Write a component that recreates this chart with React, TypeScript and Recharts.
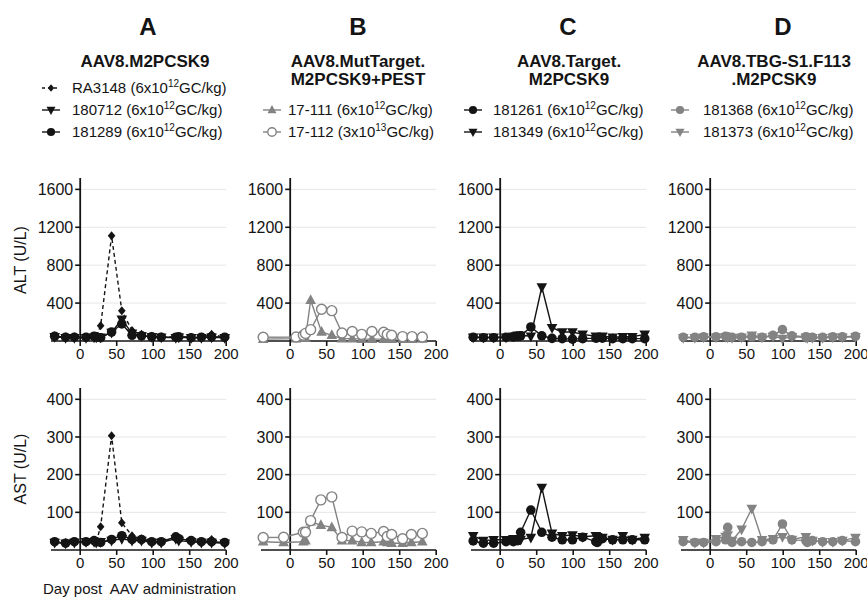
import React from 'react';
import { LineChart, Line, XAxis, YAxis, ReferenceLine } from 'recharts';

const FONT = '"Liberation Sans", Arial, Helvetica, sans-serif';
const INK = '#141414';
const GREY = '#838383';
const GRID = '#e6e6e6';

// ---------- ticks / labels ----------
const X_TICKS = [0, 50, 100, 150, 200];
const ALT_TICKS = [400, 800, 1200, 1600];
const AST_TICKS = [100, 200, 300, 400];
const PANEL_LETTERS = ['A', 'B', 'C', 'D'];
const PANEL_TITLES = [
  ['AAV8.M2PCSK9'],
  ['AAV8.MutTarget.', 'M2PCSK9+PEST'],
  ['AAV8.Target.', 'M2PCSK9'],
  ['AAV8.TBG-S1.F113', '.M2PCSK9'],
];

// ---------- data ----------
// Panel A
const DAYS_A = [-35, -20, -8, 8, 19, 22, 28, 43, 57, 71, 84, 98, 111, 131, 135, 152, 166, 180, 198];
const ALT_RA3148 = [55, 45, 45, 40, 50, 50, 160, 1110, 320, 110, 70, 50, 45, 40, 45, 40, 40, 70, 40];
const ALT_180712 = [45, 35, 35, 35, 40, 40, 40, 90, 230, 80, 55, 45, 40, 35, 40, 35, 35, 40, 35];
const ALT_181289 = [50, 40, 40, 40, 50, 45, 35, 95, 180, 60, 55, 45, 40, 40, 45, 35, 40, 45, 40];
const AST_RA3148 = [22, 20, 22, 22, 25, 22, 62, 303, 72, 38, 30, 22, 22, 30, 28, 25, 22, 28, 20];
const AST_180712 = [20, 18, 20, 22, 22, 20, 22, 25, 30, 25, 25, 20, 20, 30, 25, 22, 20, 20, 18];
const AST_181289 = [22, 18, 22, 22, 25, 22, 20, 28, 38, 28, 28, 22, 22, 35, 30, 25, 22, 22, 20];

// Panel B
const DAYS_B_ALT = [-37, 8, 18, 21, 28, 43, 57, 71, 85, 98, 112, 128, 133, 139, 154, 167, 181];
const ALT_17_111 = [20, 25, 30, 30, 430, 95, 60, 25, 25, 20, 20, 20, 25, 20, 20, 20, 22];
const ALT_17_112 = [40, 42, 60, 80, 120, 335, 320, 85, 100, 70, 100, 92, 70, 60, 46, 46, 42];
const DAYS_B_AST = [-37, -9, 18, 21, 28, 42, 57, 71, 85, 98, 111, 128, 133, 139, 154, 166, 181];
const AST_17_111 = [22, 20, 22, 25, 75, 66, 60, 25, 25, 20, 20, 22, 20, 18, 18, 20, 22];
const AST_17_112 = [33, 34, 47, 47, 78, 133, 141, 33, 50, 48, 44, 49, 36, 41, 30, 41, 44];

// Panel C
const DAYS_C = [-37, -23, -9, 8, 18, 24, 28, 42, 57, 71, 85, 99, 113, 131, 133, 140, 154, 168, 181, 198];
const ALT_181261 = [40, 35, 35, 40, 45, 50, 55, 148, 55, 28, 25, 20, 25, 30, 35, 30, 25, 25, 25, 25];
const ALT_181349 = [40, 40, 40, 40, 50, 60, 60, 50, 570, 140, 95, 95, 70, 50, 45, 50, 40, 45, 45, 70];
const AST_181261 = [24, 18, 18, 22, 22, 25, 47, 106, 47, 34, 27, 27, 34, 22, 20, 30, 27, 27, 27, 27];
const AST_181349 = [38, 25, 27, 27, 30, 30, 28, 33, 166, 44, 38, 40, 35, 38, 35, 33, 28, 38, 28, 33];

// Panel D
const DAYS_D = [-37, -21, -9, 8, 21, 24, 30, 43, 57, 71, 86, 99, 112, 131, 133, 140, 154, 168, 181, 199];
const ALT_181368 = [40, 40, 45, 45, 50, 45, 40, 40, 45, 40, 60, 120, 55, 45, 40, 40, 40, 45, 45, 50];
const ALT_181373 = [35, 35, 40, 40, 45, 40, 35, 40, 60, 40, 50, 25, 45, 40, 35, 35, 35, 40, 40, 45];
const AST_181368 = [22, 20, 20, 22, 27, 60, 20, 22, 20, 22, 27, 69, 27, 25, 20, 25, 22, 22, 25, 22];
const AST_181373 = [27, 20, 20, 30, 36, 40, 25, 55, 110, 27, 30, 35, 28, 35, 25, 25, 22, 22, 25, 33];

const pts = (days: number[], vals: number[]) => days.map((d, i) => ({ day: d, v: vals[i] }));

type Shape = 'circle' | 'open' | 'diamond' | 'triUp' | 'triDown';
interface Series { id: string; mant: string; exp: string; shape: Shape; color: string; dashed?: boolean; alt: any[]; ast: any[]; }

const PANELS: Series[][] = [
  [
    { id: 'RA3148', mant: '6', exp: '12', shape: 'diamond', color: INK, dashed: true, alt: pts(DAYS_A, ALT_RA3148), ast: pts(DAYS_A, AST_RA3148) },
    { id: '180712', mant: '6', exp: '12', shape: 'triDown', color: INK, alt: pts(DAYS_A, ALT_180712), ast: pts(DAYS_A, AST_180712) },
    { id: '181289', mant: '6', exp: '12', shape: 'circle', color: INK, alt: pts(DAYS_A, ALT_181289), ast: pts(DAYS_A, AST_181289) },
  ],
  [
    { id: '17-111', mant: '6', exp: '12', shape: 'triUp', color: GREY, alt: pts(DAYS_B_ALT, ALT_17_111), ast: pts(DAYS_B_AST, AST_17_111) },
    { id: '17-112', mant: '3', exp: '13', shape: 'open', color: GREY, alt: pts(DAYS_B_ALT, ALT_17_112), ast: pts(DAYS_B_AST, AST_17_112) },
  ],
  [
    { id: '181261', mant: '6', exp: '12', shape: 'circle', color: INK, alt: pts(DAYS_C, ALT_181261), ast: pts(DAYS_C, AST_181261) },
    { id: '181349', mant: '6', exp: '12', shape: 'triDown', color: INK, alt: pts(DAYS_C, ALT_181349), ast: pts(DAYS_C, AST_181349) },
  ],
  [
    { id: '181368', mant: '6', exp: '12', shape: 'circle', color: GREY, alt: pts(DAYS_D, ALT_181368), ast: pts(DAYS_D, AST_181368) },
    { id: '181373', mant: '6', exp: '12', shape: 'triDown', color: GREY, alt: pts(DAYS_D, ALT_181373), ast: pts(DAYS_D, AST_181373) },
  ],
];

// ---------- layout ----------
const X0 = [80.5, 290, 500, 710];          // pixel of day 0 per panel
const LETTER_X = [148, 358, 568, 783];
const TITLE_X = [145, 358, 569, 774];
const LEG_ICON_X = [51, 272, 473, 680];
const LEG_TEXT_X = [72, 288, 493, 703];
const LEG_ROW0 = [88, 110, 110, 110];
const PX_PER_DAY = 0.73;
const X_MIN = -40;
const X_MAX = 200;
const PW = (X_MAX - X_MIN) * PX_PER_DAY;
const YW = 40, MR = 16, MT = 8, XH = 30;

function Marker({ shape, cx, cy, color, s = 1 }: { shape: Shape; cx: number; cy: number; color: string; s?: number }) {
  switch (shape) {
    case 'circle':
      return <circle cx={cx} cy={cy} r={4.8 * s} fill={color} />;
    case 'open':
      return <circle cx={cx} cy={cy} r={5 * s} fill="#fff" stroke={color} strokeWidth={1.4} />;
    case 'diamond':
      return <path d={`M${cx},${cy - 4.5 * s}L${cx + 3.8 * s},${cy}L${cx},${cy + 4.5 * s}L${cx - 3.8 * s},${cy}Z`} fill={color} />;
    case 'triUp':
      return <path d={`M${cx},${cy - 6 * s}L${cx + 5.3 * s},${cy + 3.8 * s}L${cx - 5.3 * s},${cy + 3.8 * s}Z`} fill={color} />;
    case 'triDown':
    default:
      return <path d={`M${cx},${cy + 6 * s}L${cx + 5.3 * s},${cy - 3.8 * s}L${cx - 5.3 * s},${cy - 3.8 * s}Z`} fill={color} />;
  }
}

// y tick drawn at the day-0 line instead of the plot's left edge
const makeYTick = (shift: number) => (props: any) => {
  const { x, y, payload } = props;
  const ax = x + shift;
  return (
    <g>
      <line x1={ax - 5} x2={ax} y1={y} y2={y} stroke={INK} strokeWidth={1.6} />
      <text x={ax - 7} y={y} dy="0.36em" textAnchor="end" fontSize={16} fill={INK} fontFamily={FONT}>
        {payload.value}
      </text>
    </g>
  );
};

function Plot({ x0, plotTop, plotH, yMax, yTicks, series, key2 }: any) {
  const plotLeft = x0 + X_MIN * PX_PER_DAY;
  const w = YW + PW + MR;
  const h = MT + plotH + XH;
  const shift = -X_MIN * PX_PER_DAY;
  return (
    <div style={{ position: 'absolute', left: plotLeft - YW, top: plotTop - MT }}>
      <LineChart width={w} height={h} margin={{ top: MT, right: MR, bottom: 0, left: 0 }}>
        <XAxis
          type="number"
          dataKey="day"
          domain={[X_MIN, X_MAX]}
          ticks={X_TICKS}
          interval={0}
          axisLine={{ stroke: INK, strokeWidth: 1.6 }}
          tickLine={{ stroke: INK, strokeWidth: 1.6 }}
          tickSize={5}
          tickMargin={2}
          height={XH}
          tick={{ fontSize: 15, fill: INK, fontFamily: FONT }}
        />
        <YAxis
          type="number"
          domain={[0, yMax]}
          ticks={yTicks}
          interval={0}
          width={YW}
          axisLine={false}
          tickLine={false}
          tickSize={0}
          tickMargin={0}
          tick={makeYTick(shift)}
        />
        {yTicks.map((t: number) => (
          <ReferenceLine key={`g${t}`} segment={[{ x: 0, y: t }, { x: X_MAX, y: t }]} stroke={GRID} strokeWidth={1} />
        ))}
        <ReferenceLine x={0} stroke={INK} strokeWidth={1.8} />
        {series.map((s: Series) => (
          <Line
            key={s.id}
            data={key2 === 'alt' ? s.alt : s.ast}
            dataKey="v"
            type="linear"
            stroke={s.color}
            strokeWidth={1.4}
            strokeDasharray={s.dashed ? '4 3' : undefined}
            isAnimationActive={false}
            activeDot={false}
            dot={(p: any) => <Marker key={`${s.id}-${p.index}`} shape={s.shape} cx={p.cx} cy={p.cy} color={s.color} />}
          />
        ))}
      </LineChart>
    </div>
  );
}

function LegendRow({ s, iconX, textX, y }: { s: Series; iconX: number; textX: number; y: number }) {
  return (
    <>
      <svg style={{ position: 'absolute', left: iconX - 10, top: y - 8 }} width={20} height={16}>
        <line x1={1} x2={19} y1={8} y2={8} stroke={s.color} strokeWidth={1.4} strokeDasharray={s.dashed ? '3 3' : undefined} />
        <Marker shape={s.shape} cx={10} cy={8} color={s.color} s={0.85} />
      </svg>
      <div style={{ position: 'absolute', left: textX, top: y - 10, height: 20, lineHeight: '20px', fontSize: 15, whiteSpace: 'nowrap', color: INK, fontFamily: FONT }}>
        {s.id} ({s.mant}x10<span style={{ fontSize: 10, position: 'relative', top: -6 }}>{s.exp}</span>GC/kg)
      </div>
    </>
  );
}

export default function App() {
  return (
    <div style={{ position: 'absolute', left: 0, top: 0, width: 867, height: 598, background: '#fff', fontFamily: FONT, overflow: 'hidden' }}>
      {PANELS.map((series, i) => (
        <React.Fragment key={i}>
          <div style={{ position: 'absolute', left: LETTER_X[i] - 50, top: 27 - 14, width: 100, height: 28, lineHeight: '28px', textAlign: 'center', fontWeight: 'bold', fontSize: 24, color: INK }}>
            {PANEL_LETTERS[i]}
          </div>
          {PANEL_TITLES[i].map((t, j) => (
            <div key={j} style={{ position: 'absolute', left: TITLE_X[i] - 110, top: 62 + j * 18 - 10, width: 220, height: 20, lineHeight: '20px', textAlign: 'center', fontWeight: 'bold', fontSize: 17, color: INK, whiteSpace: 'nowrap' }}>
              {t}
            </div>
          ))}
          {series.map((s, j) => (
            <LegendRow key={s.id} s={s} iconX={LEG_ICON_X[i]} textX={LEG_TEXT_X[i]} y={LEG_ROW0[i] + j * 22} />
          ))}
          <Plot x0={X0[i]} plotTop={178} plotH={163} yMax={1720} yTicks={ALT_TICKS} series={series} key2="alt" />
          <Plot x0={X0[i]} plotTop={388} plotH={162} yMax={430} yTicks={AST_TICKS} series={series} key2="ast" />
        </React.Fragment>
      ))}
      <div style={{ position: 'absolute', left: 21, top: 259.5, transform: 'translate(-50%, -50%) rotate(-90deg)', fontSize: 16, whiteSpace: 'nowrap', color: INK }}>
        ALT (U/L)
      </div>
      <div style={{ position: 'absolute', left: 21, top: 469, transform: 'translate(-50%, -50%) rotate(-90deg)', fontSize: 16, whiteSpace: 'nowrap', color: INK }}>
        AST (U/L)
      </div>
      <div style={{ position: 'absolute', left: 43, top: 580, fontSize: 15, lineHeight: '17px', whiteSpace: 'pre', color: INK }}>
        {'Day post  AAV administration'}
      </div>
    </div>
  );
}
